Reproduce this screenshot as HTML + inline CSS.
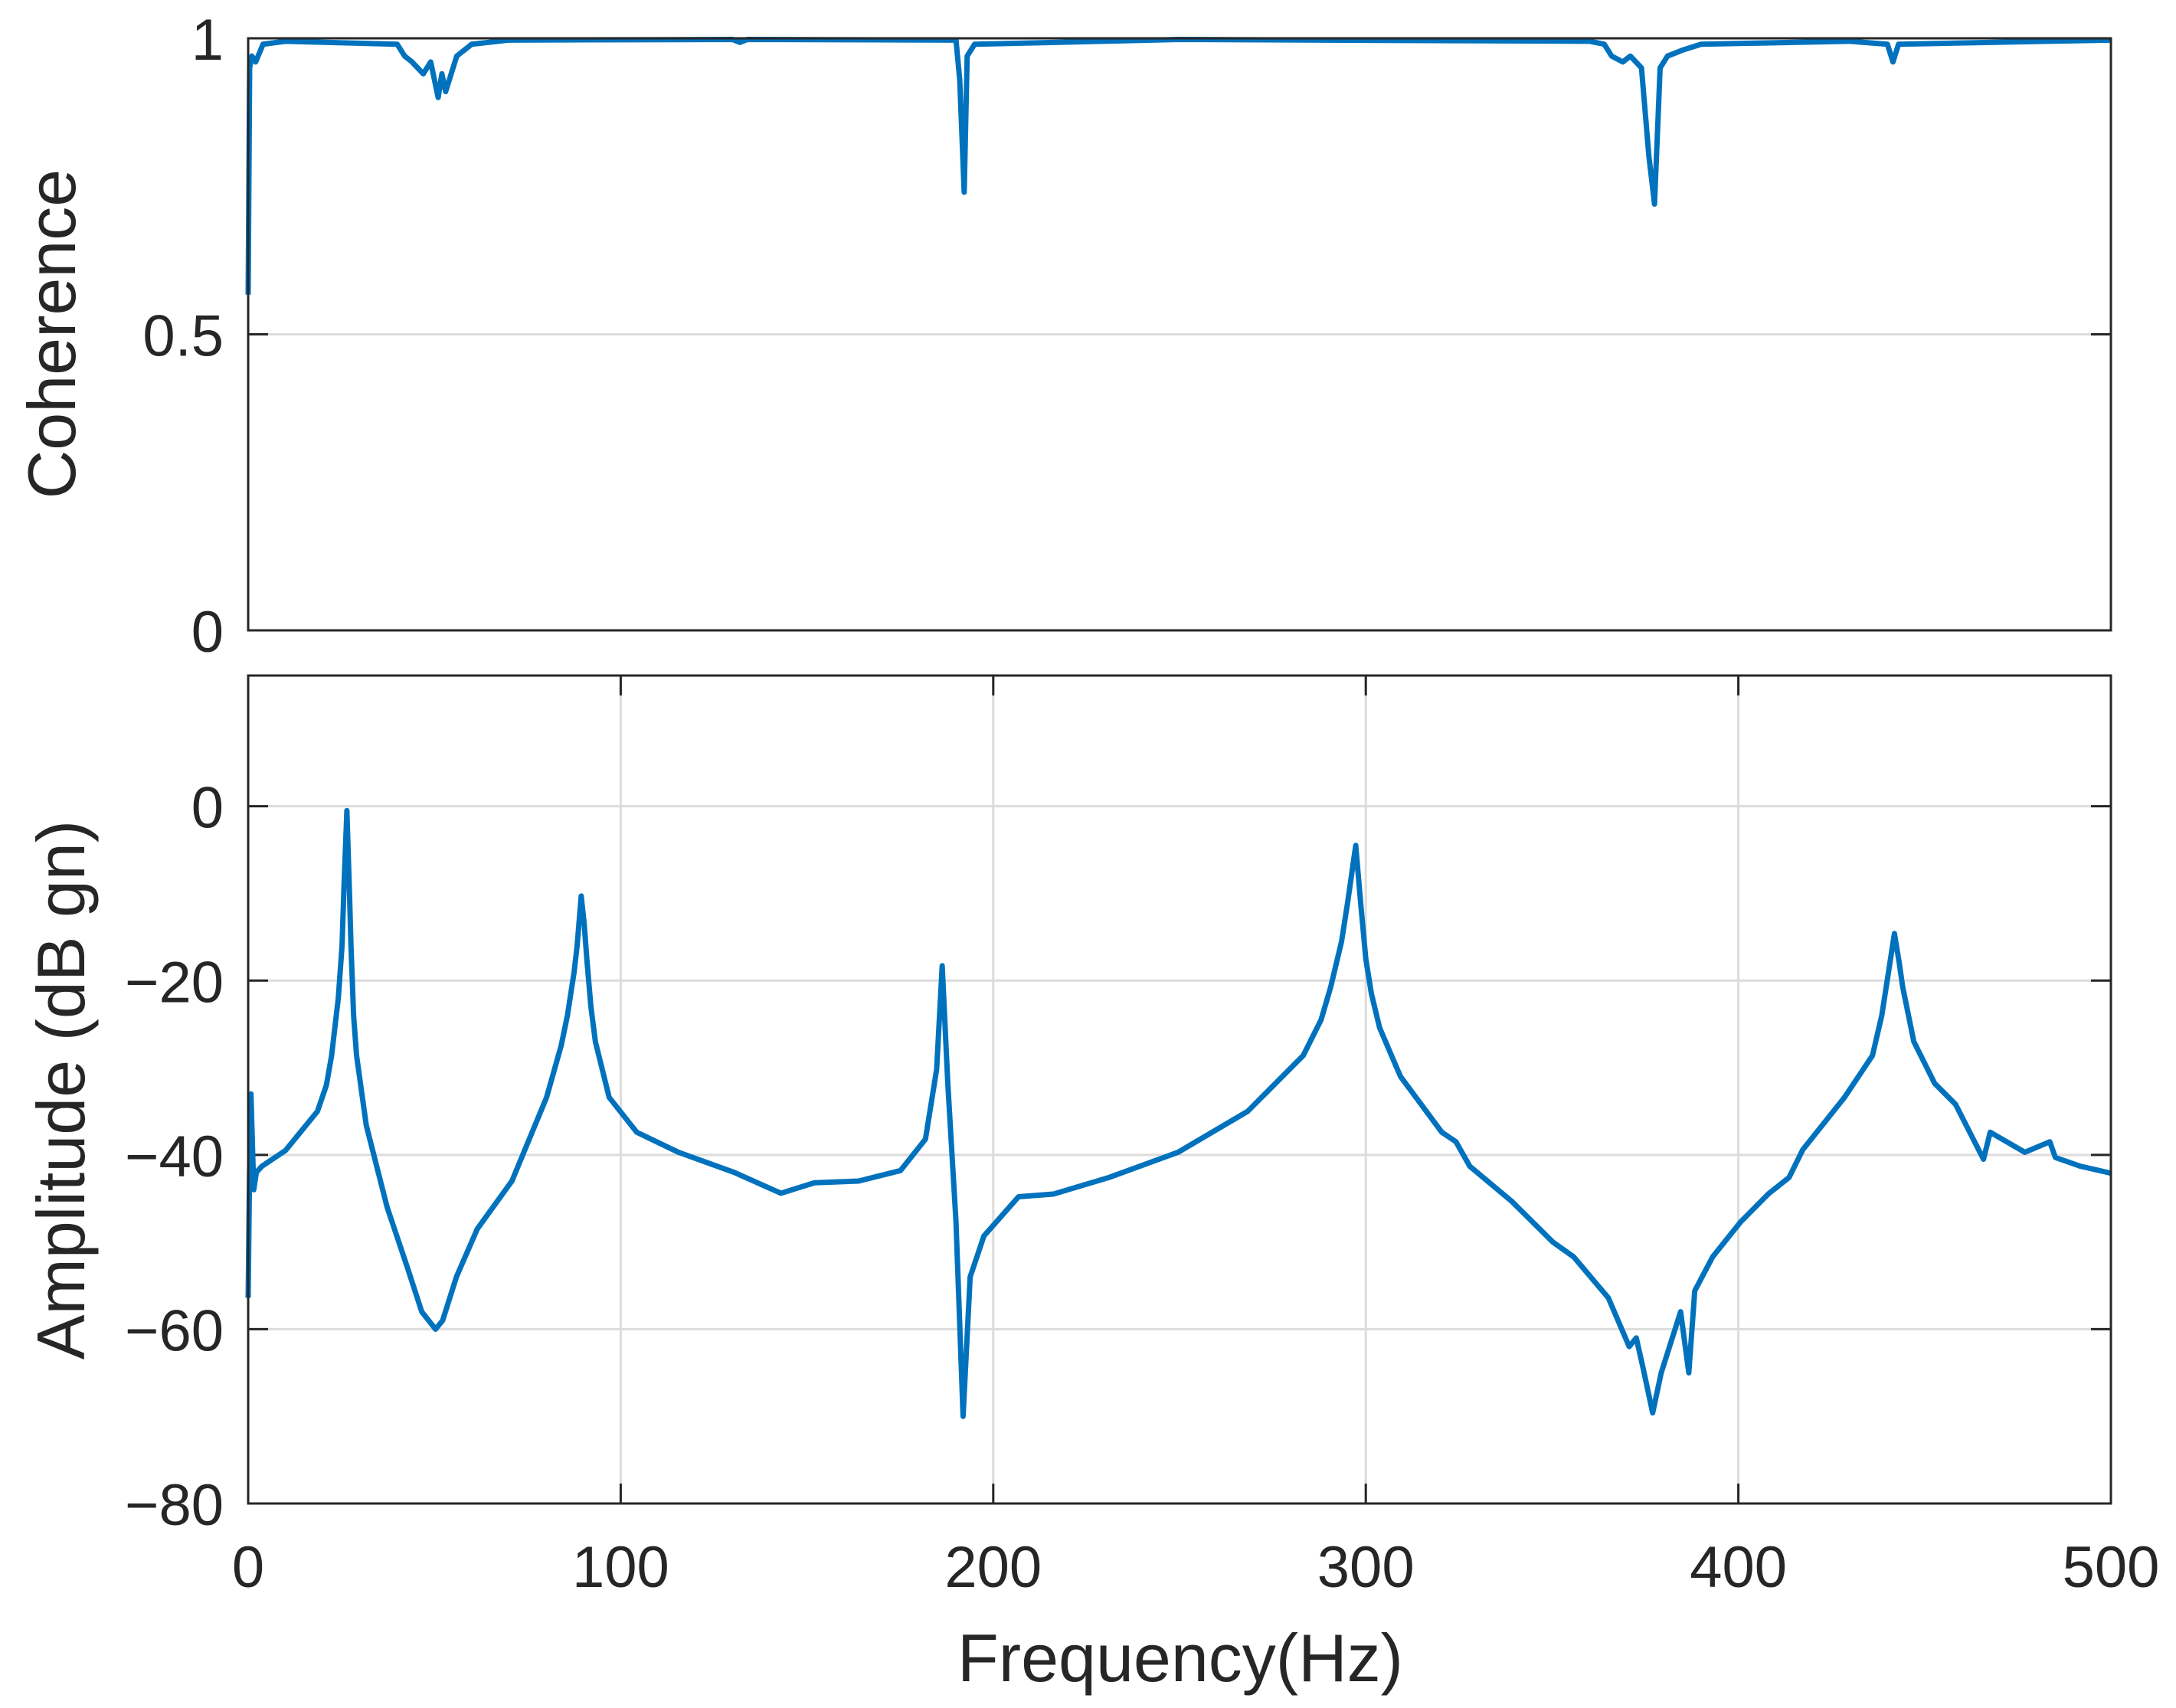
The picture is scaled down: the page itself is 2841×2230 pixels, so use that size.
<!DOCTYPE html>
<html><head><meta charset="utf-8"><style>
html,body{margin:0;padding:0;background:#fff;}
svg{display:block;font-family:"Liberation Sans",Arial,sans-serif;}
</style></head><body>
<svg id="chart" width="2841" height="2230" viewBox="0 0 2841 2230" xmlns="http://www.w3.org/2000/svg">
<rect width="2841" height="2230" fill="#fff"/>
<g id="topPanel"></g>
<g id="botPanel"></g>
<text x="0" y="0" font-size="88" fill="#262626" text-anchor="middle" transform="translate(98,436) rotate(-90)">Coherence</text>
<text x="0" y="0" font-size="88" fill="#262626" text-anchor="middle" transform="translate(110,1423) rotate(-90)">Amplitude (dB gn)</text>
<text x="1541" y="2195" font-size="88" fill="#262626" text-anchor="middle">Frequency(Hz)</text>
</svg>
<script>
const cohFreq=[0,0.4,1,2,4,10,40,42,44,47,49,51,52,53,56,60,70,130,132,134,190,191,192.2,193,195,250,360,364,366,369,371,374,376,377.5,379,381,385,390,430,440,441.5,443,500];
const cohVal=[0.567,0.95,0.97,0.96,0.99,0.995,0.99,0.97,0.96,0.94,0.96,0.9,0.94,0.91,0.97,0.99,0.997,0.998,0.993,0.998,0.997,0.93,0.74,0.97,0.99,0.998,0.995,0.99,0.97,0.96,0.97,0.95,0.8,0.72,0.95,0.97,0.98,0.99,0.995,0.99,0.96,0.99,0.997];
const ampFreq=[0,0.37,0.75,1.5,2.2,3.7,10,18.6,21,22.4,24.2,25.2,25.7,26.5,27.2,27.6,28.3,29.1,31.7,37.3,42.8,46.6,50.3,52.2,55.9,61.5,70.8,80.1,84,85.7,87.5,88.3,89.4,90.2,90.9,92,93.2,96.9,104.3,115.5,130.4,143,152,163.9,175.1,181.8,184.8,186.3,187.8,190,191.9,193.8,197.5,206.8,216.1,231,249.6,268.3,283.2,288,290.6,293.5,295.1,297.3,298.6,300,301.5,303.7,309.3,320.4,324.2,327.9,339.1,350.2,355.8,365.1,370.7,372.6,374.4,377,379.3,384.5,386.7,388.3,393.1,400.6,408,413.6,417.3,428.5,436,438.5,439.7,441.9,443.2,444.1,447.1,452.7,458.3,465.8,467.6,476.9,483.6,485.1,491.8,500];
const ampVal=[-56.4,-42,-33,-44,-42,-41.3,-39.5,-35,-32,-28.6,-22,-16,-9.5,-0.5,-10,-16,-24,-28.6,-36.6,-46,-53,-58,-60,-59,-54,-48.5,-43,-33.4,-27.5,-24,-19,-16,-10.3,-13.5,-17.5,-23,-27,-33.4,-37.4,-39.7,-42,-44.4,-43.2,-43,-41.8,-38.2,-30.2,-18.3,-31.8,-47.7,-70,-54,-49.3,-44.8,-44.5,-42.6,-39.7,-35,-28.6,-24.5,-20.7,-15.5,-11.1,-4.5,-11,-17.5,-21.5,-25.4,-31,-37.4,-38.5,-41.3,-45.3,-50,-51.7,-56.4,-62,-61,-64.4,-69.6,-65,-58,-65,-55.6,-51.7,-47.7,-44.5,-42.6,-39.4,-33.4,-28.6,-24,-20.7,-14.6,-18,-20.7,-27,-31.8,-34.2,-40.5,-37.4,-39.7,-38.5,-40.3,-41.3,-42.1];
const xTicks=[0,100,200,300,400,500];
const xTickLabels=["0","100","200","300","400","500"];
const cohTicks=[0,0.5,1];
const cohTickLabels=["0","0.5","1"];
const ampTicks=[-80,-60,-40,-20,0];
const ampTickLabels=["\u221280","\u221260","\u221240","\u221220","0"];

const NS="http://www.w3.org/2000/svg";
const L=324,R=2756;
const T1=50,B1=823,T2=882,B2=1963;
const xs=f=>L+(f-0)/(500-0)*(R-L);
const y1=v=>B1-(v-0)/(1-0)*(B1-T1);
const y2=v=>B2-(v+80)/(15+80)*(B2-T2);
function mk(tag,attrs,parent){const e=document.createElementNS(NS,tag);for(const k in attrs)e.setAttribute(k,attrs[k]);parent.appendChild(e);return e;}
const gTop=document.getElementById('topPanel'),gBot=document.getElementById('botPanel');
const TL=26;

cohTicks.forEach((t,i)=>{
  const y=y1(t);
  if(t>0&&t<1){const g=mk('line',{x1:L,x2:R,y1:y,y2:y,stroke:'#dcdcdc','stroke-width':3},gTop);
  
  }
  const a=mk('line',{x1:L,x2:L+TL,y1:y,y2:y,stroke:'#262626','stroke-width':3},gTop);
  
  
  const b=mk('line',{x1:R,x2:R-TL,y1:y,y2:y,stroke:'#262626','stroke-width':3},gTop);
  
  
  const tx=mk('text',{x:292,y:y+28,'font-size':76,fill:'#262626','text-anchor':'end'},gTop);
  tx.textContent=cohTickLabels[i];
  
  
});
xTicks.forEach((t,i)=>{
  const x=xs(t);
  if(t>0&&t<500){const g=mk('line',{x1:x,x2:x,y1:T2,y2:B2,stroke:'#dcdcdc','stroke-width':3},gBot);
  
  }
  const a=mk('line',{x1:x,x2:x,y1:B2,y2:B2-TL,stroke:'#262626','stroke-width':3},gBot);
  
  
  const b=mk('line',{x1:x,x2:x,y1:T2,y2:T2+TL,stroke:'#262626','stroke-width':3},gBot);
  
  
  const tx=mk('text',{x:x,y:2072,'font-size':76,fill:'#262626','text-anchor':'middle'},gBot);
  tx.textContent=xTickLabels[i];
  
  
});
ampTicks.forEach((t,i)=>{
  const y=y2(t);
  if(t>-80){const g=mk('line',{x1:L,x2:R,y1:y,y2:y,stroke:'#dcdcdc','stroke-width':3},gBot);
  
  }
  const a=mk('line',{x1:L,x2:L+TL,y1:y,y2:y,stroke:'#262626','stroke-width':3},gBot);
  
  
  const b=mk('line',{x1:R,x2:R-TL,y1:y,y2:y,stroke:'#262626','stroke-width':3},gBot);
  
  
  const tx=mk('text',{x:292,y:y+28,'font-size':76,fill:'#262626','text-anchor':'end'},gBot);
  tx.textContent=ampTickLabels[i];
  
  
});
const cp=mk('polyline',{points:cohFreq.map((f,i)=>xs(f)+','+y1(cohVal[i])).join(' '),fill:'none',stroke:'#0072BD','stroke-width':7,'stroke-linejoin':'round'},gTop);


const ap=mk('polyline',{points:ampFreq.map((f,i)=>xs(f)+','+y2(ampVal[i])).join(' '),fill:'none',stroke:'#0072BD','stroke-width':7,'stroke-linejoin':'round'},gBot);


const f1=mk('rect',{x:L,y:T1,width:R-L,height:B1-T1,fill:'none',stroke:'#262626','stroke-width':3},gTop);


const f2=mk('rect',{x:L,y:T2,width:R-L,height:B2-T2,fill:'none',stroke:'#262626','stroke-width':3},gBot);


</script>
</body></html>
